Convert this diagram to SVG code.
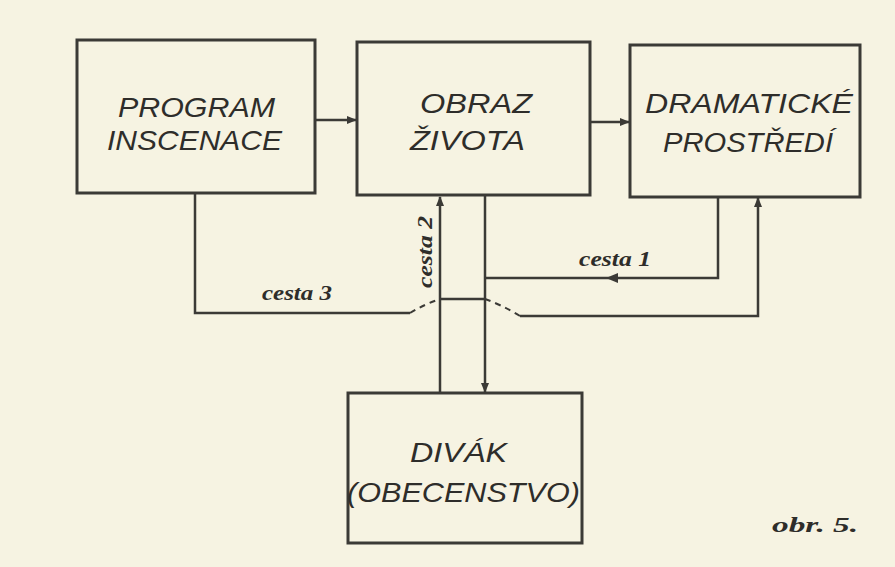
<svg xmlns="http://www.w3.org/2000/svg" width="895" height="567" viewBox="0 0 895 567">
<style>
.box{fill:none;stroke:#3b3a36;stroke-width:3}
.ln{fill:none;stroke:#3b3a36;stroke-width:2.5}
.dash{fill:none;stroke:#3b3a36;stroke-width:2;stroke-dasharray:6 5}
.t{font-family:"Liberation Sans",Arial,sans-serif;font-style:italic;font-size:28px;fill:#2e2d2a}
.lab{font-family:"Liberation Serif","Times New Roman",serif;font-style:italic;font-weight:bold;font-size:20px;fill:#2e2d2a}
</style>
<defs>
<marker id="ah" markerWidth="10" markerHeight="8" refX="9" refY="4" orient="auto" markerUnits="userSpaceOnUse">
<path d="M0,0 L10,4 L0,8 Z" fill="#3b3a36"/>
</marker>
</defs>
<rect width="895" height="567" fill="#f6f3e2"/>
<g id="program">
<rect class="box" x="77" y="40" width="238" height="153"/>
<text class="t" x="118" y="117" textLength="157" lengthAdjust="spacingAndGlyphs">PROGRAM</text>
<text class="t" x="107" y="150" textLength="175" lengthAdjust="spacingAndGlyphs">INSCENACE</text>
</g>
<g id="obraz">
<rect class="box" x="357" y="42" width="233" height="153"/>
<text class="t" x="420" y="113" textLength="112" lengthAdjust="spacingAndGlyphs">OBRAZ</text>
<text class="t" x="410" y="150" textLength="115" lengthAdjust="spacingAndGlyphs">ŽIVOTA</text>
</g>
<g id="dramaticke">
<rect class="box" x="630" y="45" width="230" height="152"/>
<text class="t" x="645" y="113" textLength="208" lengthAdjust="spacingAndGlyphs">DRAMATICKÉ</text>
<text class="t" x="663" y="152" textLength="170" lengthAdjust="spacingAndGlyphs">PROSTŘEDÍ</text>
</g>
<g id="divak">
<rect class="box" x="348" y="393" width="234" height="150"/>
<text class="t" x="410" y="462" textLength="97" lengthAdjust="spacingAndGlyphs">DIVÁK</text>
<text class="t" x="347" y="502" textLength="233" lengthAdjust="spacingAndGlyphs">(OBECENSTVO)</text>
</g>
<g id="connectors">
<line class="ln" x1="315" y1="120" x2="356" y2="120" marker-end="url(#ah)"/>
<line class="ln" x1="590" y1="122" x2="629" y2="122" marker-end="url(#ah)"/>
<line class="ln" x1="440" y1="393" x2="440" y2="197" marker-end="url(#ah)"/>
<line class="ln" x1="485" y1="195" x2="485" y2="392" marker-end="url(#ah)"/>
<polyline class="ln" points="718,197 718,278 485,278"/>
<path d="M618,273 L606,278 L618,283 Z" fill="#3b3a36"/>
<polyline class="ln" points="195,193 195,313 410,313"/>
<path class="dash" d="M410,313 Q425,304 440,299"/>
<line class="ln" x1="440" y1="299" x2="485" y2="299"/>
<path class="dash" d="M485,299 Q502,305 520,316"/>
<polyline class="ln" points="520,316 758,316 758,198" marker-end="url(#ah)"/>
</g>
<text class="lab" x="262" y="300" textLength="70" lengthAdjust="spacingAndGlyphs">cesta 3</text>
<text class="lab" x="579" y="266" textLength="72" lengthAdjust="spacingAndGlyphs">cesta 1</text>
<text class="lab" transform="translate(432,288) rotate(-90)" textLength="72" lengthAdjust="spacingAndGlyphs">cesta 2</text>
<text class="lab" x="772" y="532" font-size="28" textLength="86" lengthAdjust="spacingAndGlyphs">obr. 5.</text>
</svg>
